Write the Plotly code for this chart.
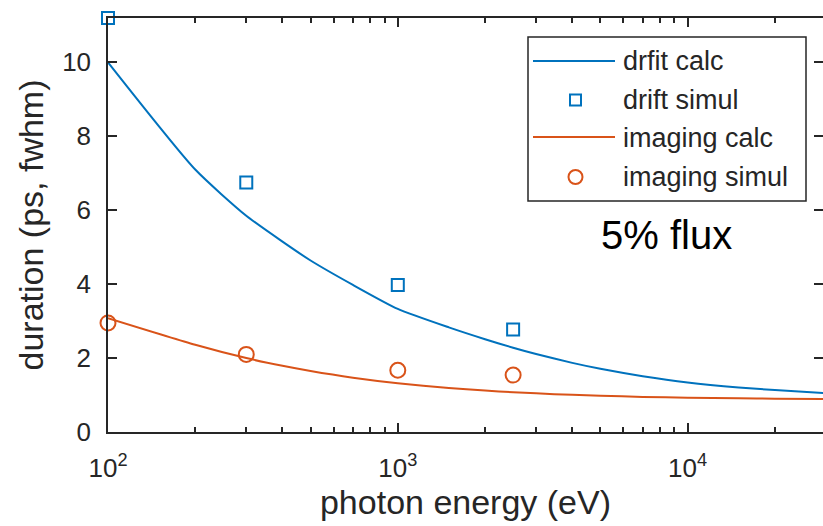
import plotly.graph_objects as go

# Calculated pulse duration vs photon energy (smooth curves)
energy_calc = [100, 200, 300, 400, 500, 700, 1000, 1500, 2000, 2500, 3000,
               4000, 5000, 7000, 10000, 15000, 20000, 30000]
drift_calc = [10.0, 7.1, 5.85, 5.15, 4.64, 3.98, 3.33, 2.83, 2.51, 2.28, 2.11,
              1.87, 1.71, 1.51, 1.34, 1.205, 1.135, 1.05]
imaging_calc = [3.08, 2.36, 2.0, 1.79, 1.65, 1.47, 1.32, 1.19, 1.12, 1.075, 1.045,
                1.005, 0.98, 0.95, 0.925, 0.91, 0.9, 0.89]

# Simulated points
energy_simul = [100, 300, 1000, 2500]
drift_simul = [11.2, 6.75, 3.98, 2.77]
imaging_simul = [2.95, 2.1, 1.67, 1.54]

# Axis ticks
x_tickvals = [100, 1000, 10000]
x_ticktext = ["10<sup>2</sup>", "10<sup>3</sup>", "10<sup>4</sup>"]
x_minor = [200, 300, 400, 500, 600, 700, 800, 900,
           2000, 3000, 4000, 5000, 6000, 7000, 8000, 9000, 20000]
y_tickvals = [0, 2, 4, 6, 8, 10]

legend_labels = ["drfit calc", "drift simul", "imaging calc", "imaging simul"]
note_text = "5% flux"

BLUE = "#0072BD"
ORANGE = "#D95319"
AXIS = "#262626"
FONT = "Liberation Sans, Arial, sans-serif"

W, H = 823, 526
L, R, T, B = 108, 0, 18, 94


def px_x(px):
    return (px - L) / (W - L - R)


def px_y(py):
    return (H - B - py) / (H - T - B)


fig = go.Figure()
fig.add_trace(go.Scatter(x=energy_calc, y=drift_calc, mode="lines",
                         name=legend_labels[0],
                         line=dict(color=BLUE, width=2, shape="spline",
                                   smoothing=0.6)))
fig.add_trace(go.Scatter(x=energy_simul, y=drift_simul, mode="markers",
                         name=legend_labels[1], cliponaxis=False,
                         marker=dict(symbol="square-open", size=12,
                                     color=BLUE, line=dict(width=2))))
fig.add_trace(go.Scatter(x=energy_calc, y=imaging_calc, mode="lines",
                         name=legend_labels[2],
                         line=dict(color=ORANGE, width=2, shape="spline",
                                   smoothing=0.6)))
fig.add_trace(go.Scatter(x=energy_simul, y=imaging_simul, mode="markers",
                         name=legend_labels[3], cliponaxis=False, yaxis="y2",
                         marker=dict(symbol="circle-open", size=15,
                                     color=ORANGE, line=dict(width=2))))

x_range = [2, 2 + (W - L - R) / 289.8]
y_range = [0, 11.2]

fig.update_layout(
    width=W, height=H,
    margin=dict(l=L, r=R, t=T, b=B, pad=0),
    paper_bgcolor="white", plot_bgcolor="white",
    showlegend=False,
    font=dict(family=FONT, color=AXIS),
    xaxis=dict(
        type="log", range=x_range,
        tickmode="array", tickvals=x_tickvals, ticktext=x_ticktext,
        ticks="inside", ticklen=9, tickwidth=1.5, tickcolor=AXIS,
        minor=dict(tickmode="array", tickvals=x_minor, ticks="inside",
                   ticklen=5, tickwidth=1.5, tickcolor=AXIS, showgrid=False),
        showline=True, linecolor=AXIS, linewidth=1.5, mirror="ticks",
        showgrid=False, zeroline=False,
        tickfont=dict(size=26, family=FONT, color=AXIS),
        ticklabelstandoff=12,
        title=dict(text="photon energy (eV)", standoff=4,
                   font=dict(size=34, family=FONT, color=AXIS)),
    ),
    yaxis=dict(
        range=y_range,
        tickmode="array", tickvals=y_tickvals,
        ticks="inside", ticklen=9, tickwidth=1.5, tickcolor=AXIS,
        showline=True, linecolor=AXIS, linewidth=1.5, mirror=False,
        showgrid=False, zeroline=False,
        tickfont=dict(size=26, family=FONT, color=AXIS),
        ticklabelstandoff=10,
        title=dict(text="duration (ps, fwhm)", standoff=8,
                   font=dict(size=34, family=FONT, color=AXIS)),
    ),
    yaxis2=dict(
        range=y_range, overlaying="y", side="right", anchor="x",
        tickmode="array", tickvals=y_tickvals,
        ticks="inside", ticklen=9, tickwidth=1.5, tickcolor=AXIS,
        showticklabels=False, showline=False, showgrid=False, zeroline=False,
    ),
)

# Legend box drawn in paper space
shapes = [
    dict(type="rect", xref="paper", yref="paper",
         x0=px_x(528), x1=px_x(806), y0=px_y(201), y1=px_y(37),
         line=dict(color=AXIS, width=1.5), fillcolor="white", layer="above"),
    dict(type="line", xref="paper", yref="paper",
         x0=px_x(533), x1=px_x(615), y0=px_y(61), y1=px_y(61),
         line=dict(color=BLUE, width=2), layer="above"),
    dict(type="rect", xref="paper", yref="paper",
         x0=px_x(570), x1=px_x(581), y0=px_y(105.5), y1=px_y(94.5),
         line=dict(color=BLUE, width=2), layer="above"),
    dict(type="line", xref="paper", yref="paper",
         x0=px_x(533), x1=px_x(615), y0=px_y(137), y1=px_y(137),
         line=dict(color=ORANGE, width=2), layer="above"),
    dict(type="circle", xref="paper", yref="paper",
         x0=px_x(568.5), x1=px_x(582.5), y0=px_y(184), y1=px_y(170),
         line=dict(color=ORANGE, width=2), layer="above"),
]
fig.update_layout(shapes=shapes)

row_y = [61, 100, 138, 177]
for label, ry in zip(legend_labels, row_y):
    fig.add_annotation(text=label, xref="paper", yref="paper",
                       x=px_x(621), y=px_y(ry), xanchor="left", yanchor="middle",
                       showarrow=False,
                       font=dict(size=27, family=FONT, color=AXIS))

fig.add_annotation(text=note_text, xref="paper", yref="paper",
                   x=px_x(666), y=px_y(235), xanchor="center", yanchor="middle",
                   showarrow=False,
                   font=dict(size=40, family=FONT, color="black"))

fig.write_html("out.html")
